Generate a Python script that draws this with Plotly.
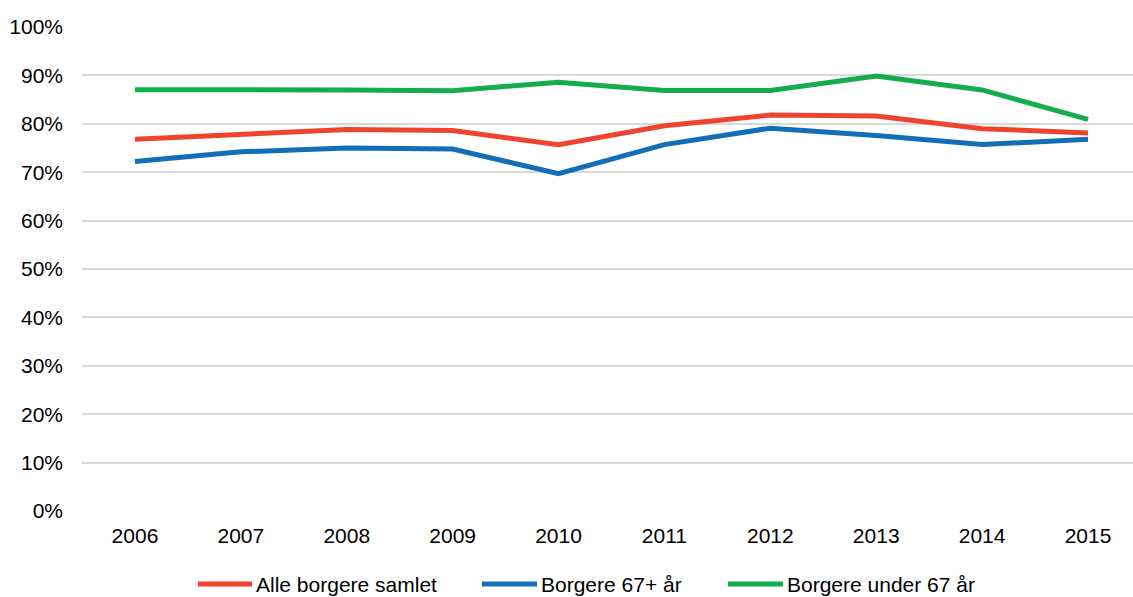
import plotly.graph_objects as go

years = ["2006", "2007", "2008", "2009", "2010", "2011", "2012", "2013", "2014", "2015"]
alle = [76.8, 77.8, 78.8, 78.6, 75.7, 79.6, 81.8, 81.6, 79.0, 78.1]
over67 = [72.2, 74.2, 75.0, 74.8, 69.7, 75.7, 79.1, 77.6, 75.7, 76.8]
under67 = [87.05, 87.1, 87.0, 86.85, 88.6, 86.9, 86.9, 89.85, 87.0, 80.9]

names = ["Alle borgere samlet", "Borgere 67+ år", "Borgere under 67 år"]
colors = ["#EF4331", "#126EB7", "#13AE4B"]
y_ticks = [0, 10, 20, 30, 40, 50, 60, 70, 80, 90, 100]

FONT = "Liberation Sans, Arial, sans-serif"
FS = 21

# plot area geometry in pixels (for the custom legend placement)
L, R, T, B = 82, 1133, 27, 511
W, H = R - L, B - T


def px_x(p):
    return (p - L) / W


def px_y(p):
    return (B - p) / H


fig = go.Figure()
for name, vals, col in zip(names, [alle, over67, under67], colors):
    fig.add_trace(go.Scatter(x=years, y=vals, mode="lines", name=name,
                             line=dict(color=col, width=5), showlegend=False))

# custom legend (long line keys as in the reference)
legend_lines = [(198, 252), (482, 537), (728, 783)]
leg_y = 584
shapes, annotations = [], []
for (x0, x1), name, col in zip(legend_lines, names, colors):
    shapes.append(dict(type="line", xref="paper", yref="paper",
                       x0=px_x(x0), x1=px_x(x1), y0=px_y(leg_y), y1=px_y(leg_y),
                       line=dict(color=col, width=5)))
    annotations.append(dict(xref="paper", yref="paper", x=px_x(x1 + 2), y=px_y(leg_y),
                            xanchor="left", yanchor="middle", showarrow=False,
                            text=name, font=dict(family=FONT, size=FS, color="#000")))

fig.update_layout(
    width=1133, height=597,
    margin=dict(l=L, r=1133 - R, t=T, b=597 - B),
    paper_bgcolor="white", plot_bgcolor="white",
    font=dict(family=FONT, size=FS, color="#000000"),
    showlegend=False,
    shapes=shapes, annotations=annotations,
    xaxis=dict(type="category", range=[-0.5, 9.425], showgrid=False,
               zeroline=False, showline=False, ticks="",
               ticklabelstandoff=10),
    yaxis=dict(range=[0, 100], tickvals=y_ticks,
               ticktext=[f"{v}%" for v in y_ticks],
               showgrid=True, gridcolor="#D9D9D9", gridwidth=1.5,
               zeroline=False, showline=False, ticks="",
               ticklabelstandoff=18),
)

fig.write_html("out.html")
